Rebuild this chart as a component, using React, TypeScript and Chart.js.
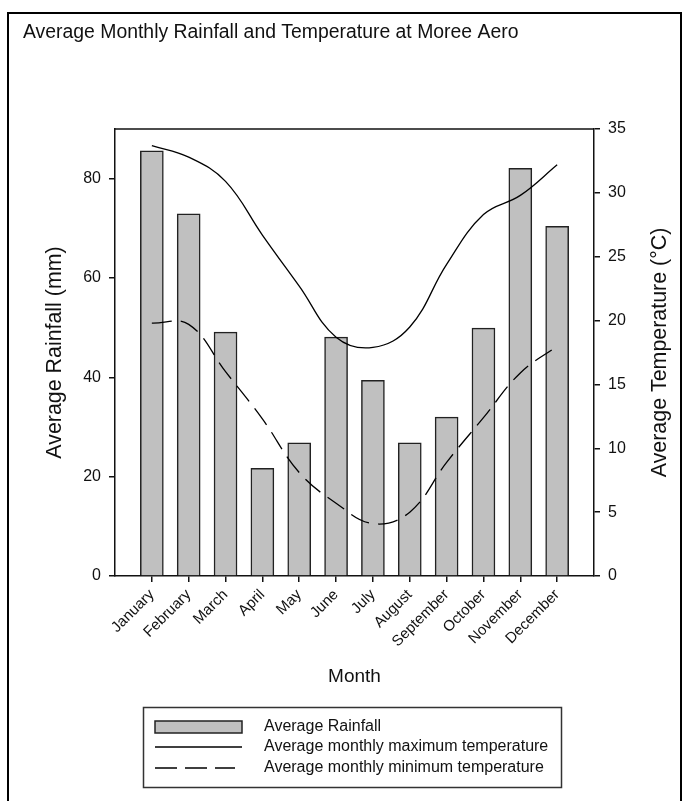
import React, { useEffect, useRef } from 'react';
import { Chart, registerables } from 'chart.js';

Chart.register(...registerables);

// Monthly climate averages for Moree Aero
const MONTHS = [
  'January', 'February', 'March', 'April', 'May', 'June',
  'July', 'August', 'September', 'October', 'November', 'December',
];
const RAINFALL_MM = [85.6, 72.9, 49.1, 21.7, 26.8, 48.1, 39.4, 26.8, 32.0, 49.9, 82.1, 70.4];
const MAX_TEMP_C = [33.7, 32.8, 30.9, 26.7, 22.7, 18.7, 17.9, 19.5, 24.4, 28.3, 29.8, 32.2];
const MIN_TEMP_C = [19.8, 19.7, 16.0, 12.3, 8.1, 5.7, 4.1, 5.0, 8.9, 12.4, 15.9, 18.0];
const RAIN_TICKS = [0, 20, 40, 60, 80];
const TEMP_TICKS = [0, 5, 10, 15, 20, 25, 30, 35];

const TITLE = 'Average Monthly Rainfall and Temperature at Moree Aero';
const X_TITLE = 'Month';
const Y_LEFT_TITLE = 'Average Rainfall (mm)';
const Y_RIGHT_TITLE = 'Average Temperature (\u00B0C)';

const FONT = '"Liberation Sans", Arial, Helvetica, sans-serif';
const INK = '#111';
const W = 684;
const H = 801;

// Canvas-drawn frame, chart title, axis titles, plot box top edge and boxed legend
const decorations = {
  id: 'decorations',
  afterDraw(chart: any) {
    const { ctx, chartArea } = chart;
    const { left, right, top, bottom } = chartArea;
    ctx.save();

    // outer frame
    ctx.strokeStyle = '#000';
    ctx.lineWidth = 2;
    ctx.beginPath();
    ctx.moveTo(8, H + 5);
    ctx.lineTo(8, 13);
    ctx.lineTo(681, 13);
    ctx.lineTo(681, H + 5);
    ctx.stroke();

    // top edge of the plot box
    ctx.strokeStyle = INK;
    ctx.lineWidth = 1.5;
    ctx.beginPath();
    ctx.moveTo(left, top);
    ctx.lineTo(right, top);
    ctx.stroke();

    ctx.fillStyle = INK;
    // chart title
    ctx.font = `19.4px ${FONT}`;
    ctx.textAlign = 'left';
    ctx.textBaseline = 'alphabetic';
    ctx.fillText(TITLE, 23, 38);

    // x-axis title
    ctx.font = `19px ${FONT}`;
    ctx.textAlign = 'center';
    ctx.textBaseline = 'middle';
    ctx.fillText(X_TITLE, (left + right) / 2, 677);

    // left y-axis title
    const midY = (top + bottom) / 2;
    ctx.font = `21.4px ${FONT}`;
    ctx.save();
    ctx.translate(55, midY);
    ctx.rotate(-Math.PI / 2);
    ctx.fillText(Y_LEFT_TITLE, 0, 0);
    ctx.restore();

    // right y-axis title
    ctx.save();
    ctx.translate(660, midY);
    ctx.rotate(-Math.PI / 2);
    ctx.fillText(Y_RIGHT_TITLE, 0, 0);
    ctx.restore();

    // legend
    const ds = chart.data.datasets;
    ctx.strokeStyle = '#333';
    ctx.lineWidth = 1.5;
    ctx.strokeRect(143.5, 707.5, 418, 80);

    const sx0 = 155;
    const sx1 = 242;
    const rows = [727, 747, 768];

    ctx.fillStyle = ds[0].backgroundColor;
    ctx.fillRect(sx0, 721, sx1 - sx0, 12);
    ctx.strokeStyle = ds[0].borderColor;
    ctx.lineWidth = 1.5;
    ctx.strokeRect(sx0, 721, sx1 - sx0, 12);

    ctx.strokeStyle = ds[1].borderColor;
    ctx.lineWidth = 1.3;
    ctx.beginPath();
    ctx.moveTo(sx0, rows[1]);
    ctx.lineTo(sx1, rows[1]);
    ctx.stroke();

    ctx.setLineDash([22, 8]);
    ctx.beginPath();
    ctx.moveTo(sx0, rows[2]);
    ctx.lineTo(sx1 - 7, rows[2]);
    ctx.stroke();
    ctx.setLineDash([]);

    ctx.fillStyle = INK;
    ctx.font = `16px ${FONT}`;
    ctx.textAlign = 'left';
    ctx.textBaseline = 'middle';
    ds.forEach((d: any, i: number) => ctx.fillText(d.label, 264, rows[i]));

    ctx.restore();
  },
};

export default function App() {
  const canvasRef = useRef<HTMLCanvasElement | null>(null);

  useEffect(() => {
    const canvas = canvasRef.current;
    if (!canvas) return;

    const axisGrid = {
      drawOnChartArea: false,
      drawTicks: true,
      tickLength: 6,
      color: INK,
      lineWidth: 1.5,
      offset: false,
    };
    const axisBorder = { display: true, color: INK, width: 1.5 };
    const tickFont = { family: FONT, size: 16 };

    const chart = new Chart(canvas, {
      data: {
        datasets: [
          {
            type: 'bar',
            label: 'Average Rainfall',
            data: RAINFALL_MM.map((v, i) => ({ x: i + 1, y: v })),
            yAxisID: 'y',
            backgroundColor: '#c0c0c0',
            borderColor: '#222',
            borderWidth: 1.5,
            barThickness: 23,
            order: 2,
          },
          {
            type: 'line',
            label: 'Average monthly maximum temperature',
            data: MAX_TEMP_C.map((v, i) => ({ x: i + 1, y: v })),
            yAxisID: 'yT',
            borderColor: '#000',
            borderWidth: 1.3,
            tension: 0.4,
            pointRadius: 0,
            fill: false,
            order: 1,
          },
          {
            type: 'line',
            label: 'Average monthly minimum temperature',
            data: MIN_TEMP_C.map((v, i) => ({ x: i + 1, y: v })),
            yAxisID: 'yT',
            borderColor: '#000',
            borderWidth: 1.3,
            borderDash: [20, 9],
            tension: 0.4,
            pointRadius: 0,
            fill: false,
            order: 0,
          },
        ],
      } as any,
      options: {
        responsive: false,
        animation: false,
        devicePixelRatio: 1,
        layout: { padding: { top: 129, left: 0, right: 0, bottom: 0 } },
        plugins: {
          legend: { display: false },
          title: { display: false },
          tooltip: { enabled: false },
        },
        scales: {
          x: {
            type: 'linear',
            position: 'bottom',
            offset: false,
            min: 0,
            max: MONTHS.length + 1,
            afterBuildTicks: (scale: any) => {
              scale.ticks = MONTHS.map((_, i) => ({ value: i + 1 }));
            },
            afterFit: (scale: any) => {
              scale.height = 225;
            },
            ticks: {
              autoSkip: false,
              minRotation: 45,
              maxRotation: 45,
              padding: 4,
              color: INK,
              font: { family: FONT, size: 15 },
              callback: (v: any) => MONTHS[Math.round(v) - 1] ?? '',
            },
            grid: axisGrid,
            border: axisBorder,
          },
          y: {
            type: 'linear',
            position: 'left',
            min: 0,
            max: 90,
            afterBuildTicks: (scale: any) => {
              scale.ticks = RAIN_TICKS.map((v) => ({ value: v }));
            },
            afterFit: (scale: any) => {
              scale.width = 115;
            },
            ticks: { padding: 8, color: INK, font: tickFont },
            grid: axisGrid,
            border: axisBorder,
          },
          yT: {
            type: 'linear',
            position: 'right',
            min: 0,
            max: 35,
            afterBuildTicks: (scale: any) => {
              scale.ticks = TEMP_TICKS.map((v) => ({ value: v }));
            },
            afterFit: (scale: any) => {
              scale.width = 90;
            },
            ticks: { padding: 8, color: INK, font: tickFont },
            grid: axisGrid,
            border: axisBorder,
          },
        },
      } as any,
      plugins: [decorations],
    });

    return () => chart.destroy();
  }, []);

  return (
    <div style={{ position: 'absolute', left: 0, top: 0, width: W, height: H, background: '#fff' }}>
      <canvas ref={canvasRef} width={W} height={H} style={{ display: 'block', width: W, height: H }} />
    </div>
  );
}
